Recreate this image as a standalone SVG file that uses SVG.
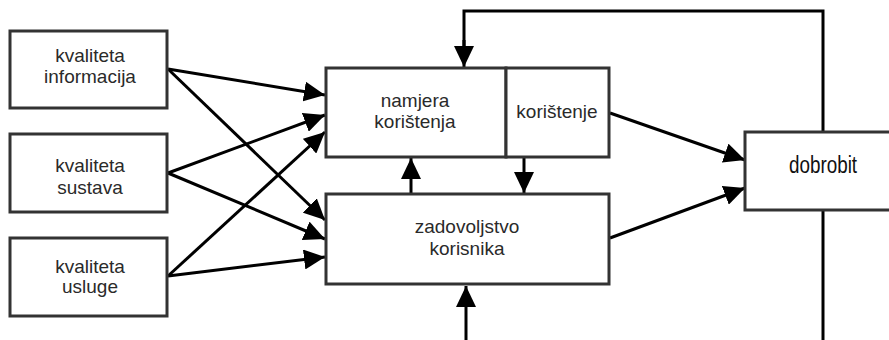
<svg xmlns="http://www.w3.org/2000/svg" width="889" height="340" viewBox="0 0 889 340">
<defs>
<marker id="ah" markerUnits="userSpaceOnUse" markerWidth="22" markerHeight="20" refX="21" refY="10" orient="auto">
<path d="M0,0 L21,10 L0,20 z" fill="#000"/>
</marker>
<style>
.box{fill:#fff;stroke:#333;stroke-width:3}
.t{font-family:"Liberation Sans",Arial,sans-serif;font-size:19px;fill:#2a2a2a;text-anchor:middle}
.n{font-family:"Liberation Sans",Arial,sans-serif;font-size:23px;fill:#111;text-anchor:middle}
.c{fill:none;stroke:#000;stroke-width:3}
.a{marker-end:url(#ah)}
</style>
</defs>
<rect width="889" height="340" fill="#fff"/>
<g id="connectors">
<polyline class="c" points="823,132 823,11 464,11 464,50"/>
<line class="c" x1="823" y1="210" x2="823" y2="342"/>
<line class="c a" x1="168" y1="69" x2="325" y2="95"/>
<line class="c a" x1="168" y1="69" x2="325" y2="220"/>
<line class="c a" x1="168" y1="173" x2="325" y2="115"/>
<line class="c a" x1="168" y1="173" x2="325" y2="239"/>
<line class="c a" x1="168" y1="276" x2="325" y2="132"/>
<line class="c a" x1="168" y1="276" x2="325" y2="257"/>
<line class="c a" x1="610" y1="113" x2="745" y2="160"/>
<line class="c a" x1="610" y1="238" x2="745" y2="188"/>
<line class="c a" x1="411" y1="194" x2="411" y2="158"/>
<line class="c a" x1="524" y1="157" x2="524" y2="193"/>
<line class="c a" x1="466" y1="342" x2="466" y2="286"/>
<line class="c a" x1="464" y1="40" x2="464" y2="67"/>
</g>
<g id="kvaliteta-informacija">
<rect class="box" x="10" y="31" width="157" height="77"/>
<text class="t" x="90" y="62">kvaliteta</text>
<text class="t" x="90" y="83">informacija</text>
</g>
<g id="kvaliteta-sustava">
<rect class="box" x="10" y="134" width="157" height="78"/>
<text class="t" x="90" y="172">kvaliteta</text>
<text class="t" x="90" y="194">sustava</text>
</g>
<g id="kvaliteta-usluge">
<rect class="box" x="10" y="238" width="157" height="78"/>
<text class="t" x="90" y="273">kvaliteta</text>
<text class="t" x="90" y="293">usluge</text>
</g>
<g id="namjera-koristenja">
<rect class="box" x="326" y="68" width="180" height="89"/>
<text class="t" x="415" y="107">namjera</text>
<text class="t" x="415" y="128">korištenja</text>
</g>
<g id="koristenje">
<rect class="box" x="506" y="68" width="103" height="89"/>
<text class="t" x="557" y="118">korištenje</text>
</g>
<g id="zadovoljstvo-korisnika">
<rect class="box" x="326" y="194" width="283" height="90"/>
<text class="t" x="467" y="233">zadovoljstvo</text>
<text class="t" x="467" y="255">korisnika</text>
</g>
<g id="dobrobit">
<rect class="box" x="745" y="132" width="160" height="78"/>
<text class="n" transform="translate(823,173) scale(0.82,1)" x="0" y="0">dobrobit</text>
</g>
</svg>
